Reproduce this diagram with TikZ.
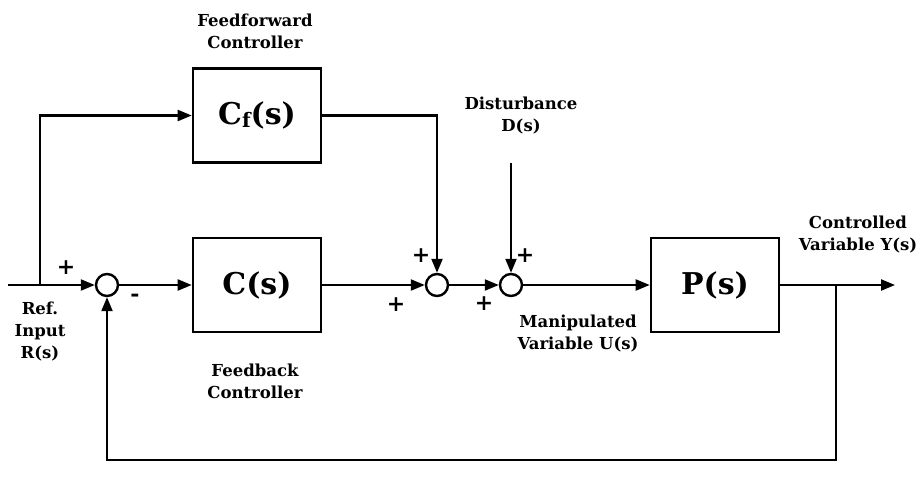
\documentclass[tikz,border=0pt]{standalone}
\usepackage{fontspec}
\setmainfont{DejaVu Serif}
\usetikzlibrary{arrows.meta}
\begin{document}
\begin{tikzpicture}[x=1pt,y=-1pt,
  blk/.style={draw,line width=2.6pt,minimum width=128pt,minimum height=94pt,font=\bfseries\fontsize{30}{32}\selectfont},
  sumc/.style={draw,circle,line width=2.4pt,minimum size=22pt,inner sep=0pt},
  lbl/.style={font=\bfseries\fontsize{16.5}{22}\selectfont,align=center},
  sgn/.style={font=\bfseries\fontsize{22}{22}\selectfont},
  ln/.style={line width=2.2pt},
  ar/.style={ln,-{Triangle[length=14pt,width=11pt]}}]
\useasboundingbox (0,0) rectangle (920,490);
\node[blk] (cf) at (257,115.5) {C\raisebox{-3pt}{\fontsize{20}{20}\selectfont f}(s)};
\node[blk] (c) at (257,285) {C(s)};
\node[blk] (p) at (715,285) {P(s)};
\node[sumc] (s1) at (107,285) {};
\node[sumc] (s2) at (437,285) {};
\node[sumc] (s3) at (511,285) {};
\coordinate (in) at (8,285);
\coordinate (br) at (40,285);
\coordinate (fb) at (836,285);
\coordinate (out) at (895,285);
\coordinate (dist) at (511,163);
\draw[ar] (in) -- (s1);
\draw[ar] (br) |- (cf);
\draw[ar] (s1) -- (c);
\draw[ar] (c) -- (s2);
\draw[ar] (cf) -| (s2);
\draw[ar] (s2) -- (s3);
\draw[ar] (dist) -- (s3);
\draw[ar] (s3) -- (p);
\draw[ar] (p) -- (out);
\draw[ar] (fb) -- (836,460) -| (s1);
\node[lbl] (t1) at (255,31) {Feedforward\\Controller};
\node[lbl] (t2) at (521,116) {Disturbance\\D(s)};
\node[lbl] (t3) at (858,235) {Controlled\\Variable Y(s)};
\node[lbl] (t4) at (40,332) {Ref.\\Input\\R(s)};
\node[lbl] (t5) at (255,381) {Feedback\\Controller};
\node[lbl] (t6) at (578,334) {Manipulated\\Variable U(s)};
\node[sgn] (p1) at (66,268) {+};
\node[sgn] (m1) at (135,298) {-};
\node[sgn] (p2) at (421,256) {+};
\node[sgn] (p3) at (396,305) {+};
\node[sgn] (p4) at (484,304) {+};
\node[sgn] (p5) at (525,256) {+};
\end{tikzpicture}
\end{document}
